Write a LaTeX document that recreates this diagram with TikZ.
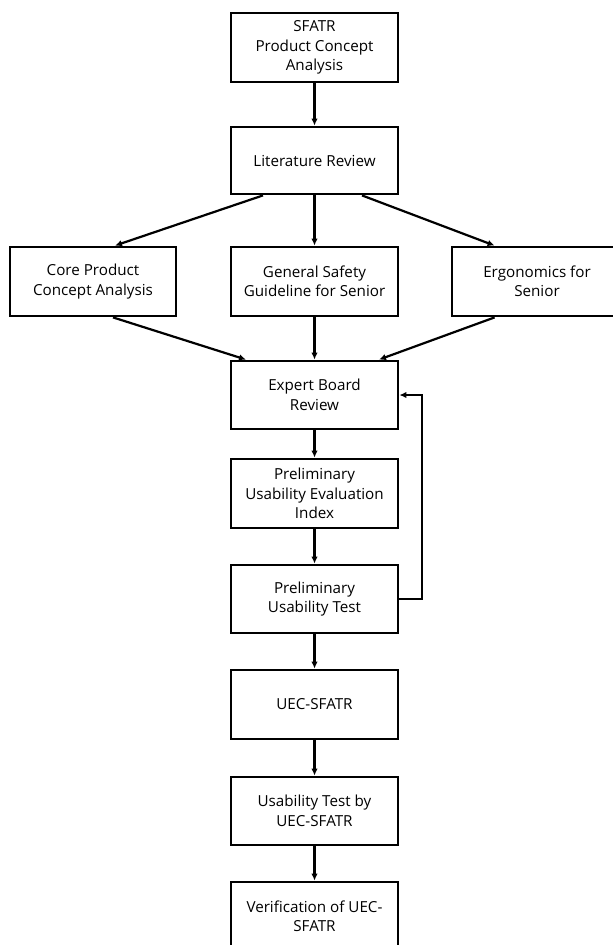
\documentclass[tikz,border=0pt]{standalone}
\usepackage{fontspec}
\setmainfont{Open Sans}
\usetikzlibrary{arrows.meta,calc}
\begin{document}
\begin{tikzpicture}[x=1pt,y=-1pt,
  box/.style={draw=black,line width=2.8pt,fill=white,minimum width=167pt,minimum height=68pt,
    align=center,inner sep=2pt,font=\fontsize{15.2}{19.5}\selectfont},
  arr/.style={line width=2.2pt,-{Latex[length=7pt,width=6.5pt]}}]
\fill[white] (0,0) rectangle (613,945);
\useasboundingbox (0,0) rectangle (613,945);
\node[box,minimum height=69pt] (n1) at (314.5,47.5) {SFATR\\Product Concept\\Analysis};
\node[box,minimum height=67pt] (n2) at (314.5,160.5) {Literature Review};
\node[box,minimum width=166pt,minimum height=69pt] (nL) at (93,281.5) {Core Product\\Concept Analysis};
\node[box,minimum height=69pt] (nM) at (314.5,281.5) {General Safety\\Guideline for Senior};
\node[box,minimum width=170pt,minimum height=69pt] (nR) at (537,281.5) {Ergonomics for\\Senior};
\node[box] (n4) at (314.5,395) {Expert Board\\Review};
\node[box,minimum height=69pt] (n5) at (314.5,493.5) {Preliminary\\Usability Evaluation\\Index};
\node[box] (n6) at (314.5,599) {Preliminary\\Usability Test};
\node[box,minimum height=69pt] (n7) at (314.5,704.5) {UEC-SFATR};
\node[box] (n8) at (314.5,811) {Usability Test by\\UEC-SFATR};
\node[box,minimum height=68pt] (n9) at (314.5,916) {Verification of UEC-\\SFATR};
\coordinate (fb) at (422,599);
\draw[arr] (n1) -- (n2);
\draw[arr] ($(n2.south)+(-51.5,0)$) -- ($(nL.north)+(22,0)$);
\draw[arr] (n2) -- (nM);
\draw[arr] ($(n2.south)+(47.5,0)$) -- ($(nR.north west)+(44,0)$);
\draw[arr] ($(nL.south)+(20,0)$) -- ($(n4.north)+(-68.5,0)$);
\draw[arr] (nM) -- (n4);
\draw[arr] ($(nR.south west)+(44,0)$) -- ($(n4.north)+(64.5,0)$);
\draw[arr] (n4) -- (n5);
\draw[arr] (n5) -- (n6);
\draw[arr] (n6) -- (n7);
\draw[arr] (n7) -- (n8);
\draw[arr] (n8) -- (n9);
\draw[arr] (n6.east) -- (fb) |- (n4.east);
\end{tikzpicture}
\end{document}
